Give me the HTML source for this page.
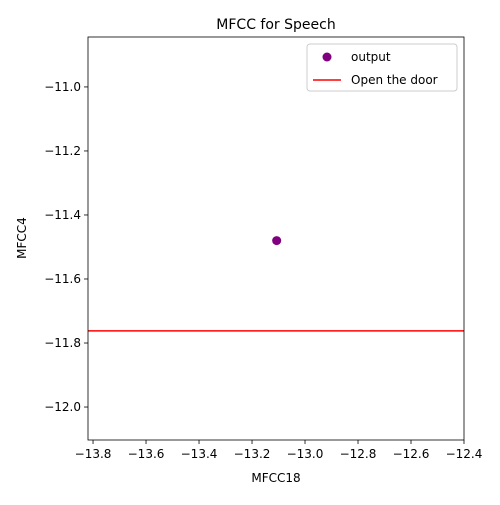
<!DOCTYPE html>
<html><head><meta charset="utf-8"><style>
body{margin:0;background:#fff;font-family:"Liberation Sans","DejaVu Sans",sans-serif;}
svg text{font-family:"DejaVu Sans","Liberation Sans",sans-serif;}
</style></head><body>
<svg id="chart" width="500" height="500" xmlns="http://www.w3.org/2000/svg">
<rect width="500" height="500" fill="#fff"/>
<text x="276" y="29" text-anchor="middle" font-size="14">MFCC for Speech</text>
<g id="axes"></g>
<rect x="88" y="37" width="376" height="403" fill="none" stroke="#000" stroke-width="0.8"/>
<text x="276" y="482" text-anchor="middle" font-size="12">MFCC18</text>
<text transform="translate(26,238) rotate(-90)" text-anchor="middle" font-size="12">MFCC4</text>
<g>
<rect x="307" y="44" width="150" height="47" fill="#fff" stroke="#ccc" rx="3"/>
<circle cx="327" cy="57" r="4.5" fill="purple"/>
<text x="351" y="61" font-size="12">output</text>
<line x1="313" y1="80" x2="341" y2="80" stroke="red" stroke-width="1.5"/>
<text x="351" y="84" font-size="12">Open the door</text>
</g>
</svg>
<script>
const xTicks=[-13.8,-13.6,-13.4,-13.2,-13.0,-12.8,-12.6,-12.4];
const yTicks=[-11.0,-11.2,-11.4,-11.6,-11.8,-12.0];
const pointX=[-13.107];
const pointY=[-11.48];
const lineY=[-11.762];
const xMin=-13.819,xMax=-12.4,yMin=-12.103,yMax=-10.844;
const L=88,R=464,T=37,B=440;
const sx=v=>L+(v-xMin)/(xMax-xMin)*(R-L);
const sy=v=>B-(v-yMin)/(yMax-yMin)*(B-T);
const NS="http://www.w3.org/2000/svg";
const g=document.getElementById('axes');
function mk(t,a){const e=document.createElementNS(NS,t);for(const k in a)e.setAttribute(k,a[k]);g.appendChild(e);return e;}
const fmt=v=>(v<0?'\u2212':'')+Math.abs(v).toFixed(1);
xTicks.forEach(v=>{
 const l=mk('line',{x1:sx(v),x2:sx(v),y1:B,y2:B+4,stroke:'#000','stroke-width':0.8});
 
 
 const t=mk('text',{x:sx(v),y:B+18,'text-anchor':'middle','font-size':12});
 t.textContent=fmt(v);
 
 
});
yTicks.forEach(v=>{
 const l=mk('line',{x1:L-4,x2:L,y1:sy(v),y2:sy(v),stroke:'#000','stroke-width':0.8});
 
 
 const t=mk('text',{x:L-7,y:sy(v)+4,'text-anchor':'end','font-size':12});
 t.textContent=fmt(v);
 
 
});
lineY.forEach(v=>{
 const l=mk('line',{x1:L,x2:R,y1:sy(v),y2:sy(v),stroke:'red','stroke-width':1.5});
 
 
});
pointX.forEach((v,i)=>{
 const c=mk('circle',{cx:sx(v),cy:sy(pointY[i]),r:4.5,fill:'purple'});
 
 
});
</script>
</body></html>
